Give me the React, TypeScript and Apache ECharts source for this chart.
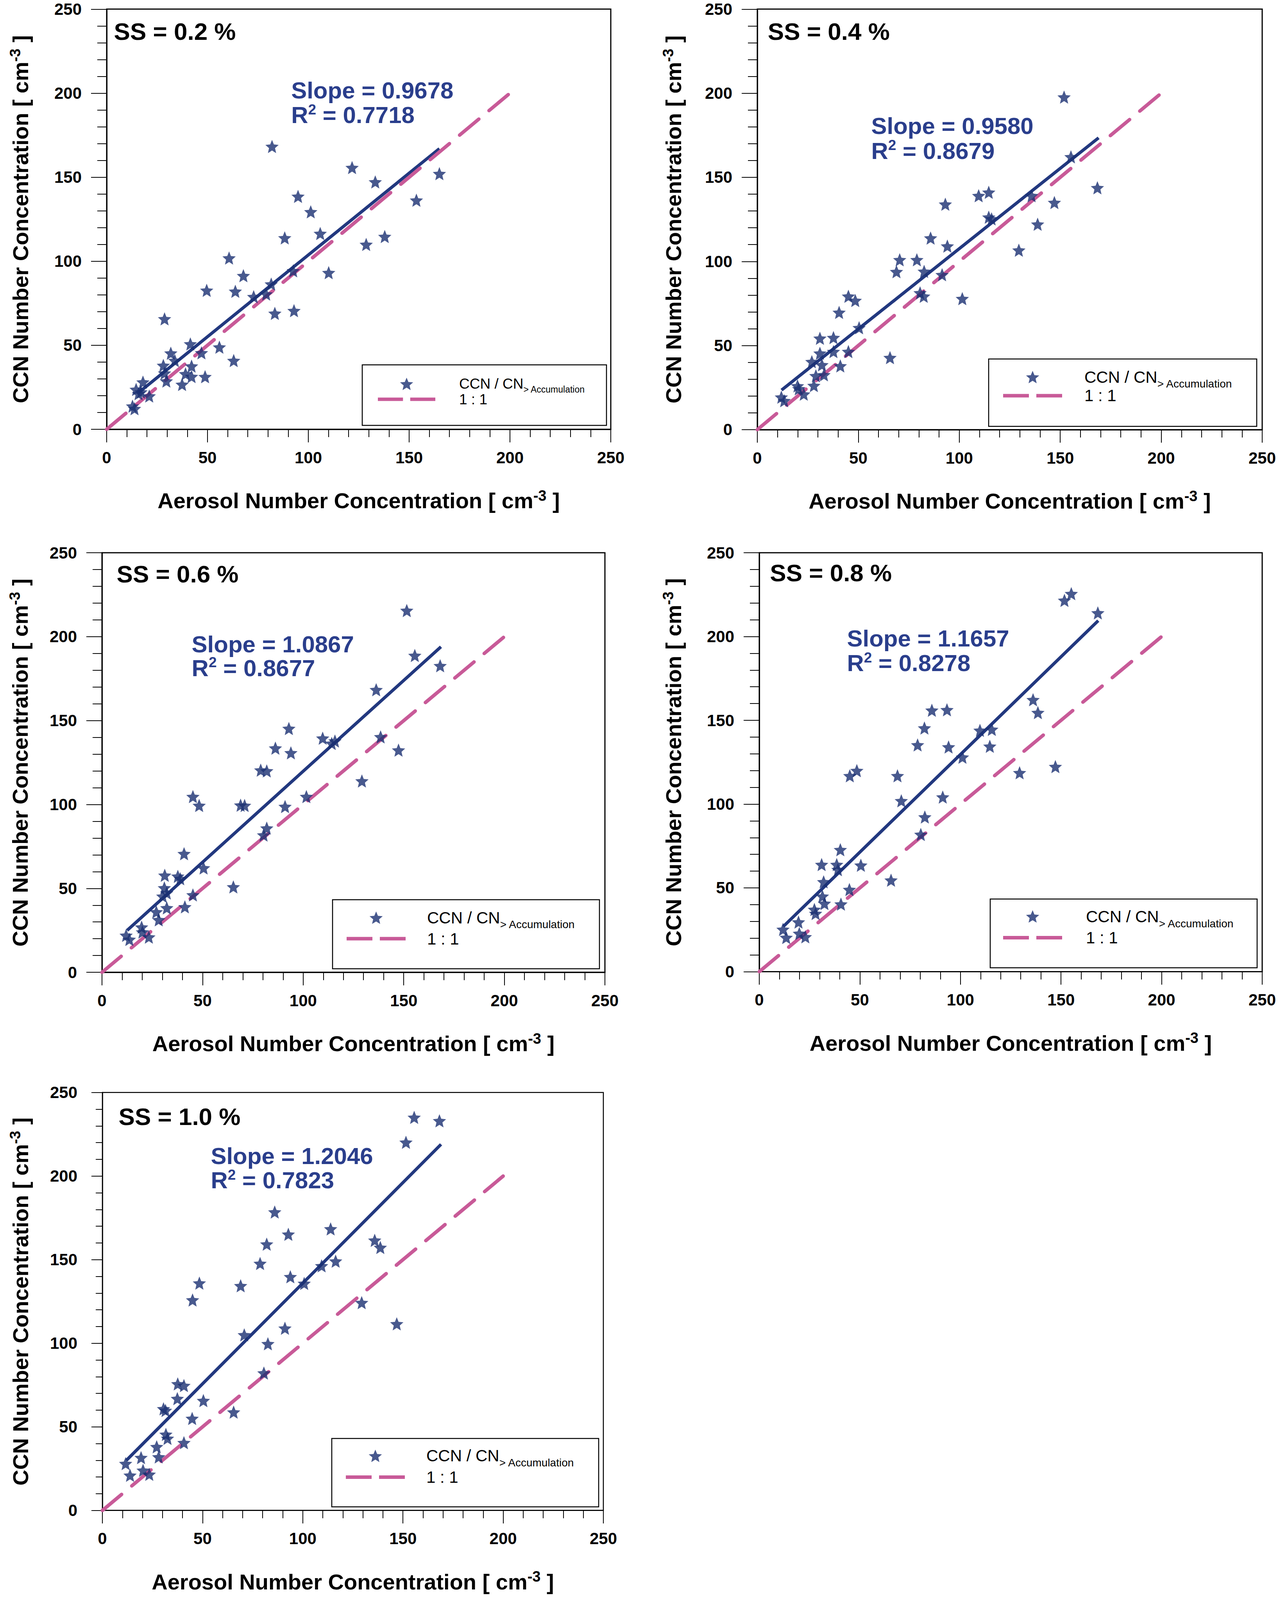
import React, { useEffect, useRef } from 'react';
import * as echarts from 'echarts';

// ---- data (x: aerosol number conc., y: CCN number conc.) ----
const ssLabels = ['SS = 0.2 %', 'SS = 0.4 %', 'SS = 0.6 %', 'SS = 0.8 %', 'SS = 1.0 %'];
const slopes = ['0.9678', '0.9580', '1.0867', '1.1657', '1.2046'];
const rSquared = ['0.7718', '0.8679', '0.8677', '0.8278', '0.7823'];

const ss02 = [
  [82.0, 168.3], [121.7, 155.7], [165.0, 152.1], [133.2, 147.2], [94.9, 138.6], [153.6, 136.3],
  [101.2, 129.4], [105.9, 116.5], [137.9, 114.7], [88.3, 113.9], [128.7, 110.0], [60.7, 101.9],
  [67.8, 91.4], [110.1, 93.2], [92.5, 94.3], [49.6, 82.7], [63.8, 82.1], [72.9, 78.9],
  [79.1, 80.5], [81.6, 86.4], [83.4, 69.0], [92.9, 70.6], [28.7, 65.7], [41.5, 50.8],
  [55.9, 48.9], [47.0, 45.5], [31.8, 45.3], [63.0, 40.9], [33.8, 40.9], [28.1, 38.0],
  [42.1, 37.6], [39.1, 33.0], [42.1, 31.4], [48.8, 31.3], [28.7, 33.4], [29.6, 28.7],
  [37.4, 26.7], [18.0, 28.1], [14.6, 23.7], [17.0, 22.2], [21.1, 19.8], [12.8, 13.8],
  [13.8, 12.3], [15.8, 21.2],
];
const ss04 = [
  [151.9, 197.7], [155.3, 162.2], [168.4, 143.8], [114.6, 141.1], [109.6, 139.1], [135.8, 139.1],
  [93.1, 134.0], [147.1, 135.0], [114.6, 126.3], [116.0, 125.3], [138.8, 122.1], [85.8, 113.9],
  [94.1, 109.1], [129.5, 106.7], [70.5, 101.0], [79.0, 101.0], [68.9, 93.9], [82.6, 94.1],
  [91.5, 92.1], [80.6, 81.3], [82.4, 79.3], [101.5, 77.9], [45.1, 79.3], [48.5, 76.8],
  [40.5, 69.7], [50.4, 60.6], [31.0, 54.3], [37.7, 54.7], [65.7, 42.8], [45.1, 46.4],
  [37.7, 46.4], [31.0, 45.4], [32.0, 38.5], [41.1, 37.9], [27.0, 40.4], [29.0, 32.0],
  [33.0, 32.6], [28.0, 26.2], [19.9, 26.0], [20.5, 24.3], [23.0, 21.1], [11.9, 19.3],
  [13.3, 17.2],
];
const ss06 = [
  [151.5, 215.6], [155.5, 188.8], [168.1, 182.7], [136.3, 168.4], [92.9, 145.3], [109.7, 139.5],
  [115.8, 137.8], [114.2, 136.4], [138.5, 140.3], [86.2, 133.6], [93.9, 130.8], [147.4, 132.4],
  [78.9, 120.5], [81.9, 120.0], [129.2, 114.0], [45.2, 104.7], [48.3, 99.4], [68.9, 99.6],
  [70.9, 99.4], [91.0, 98.8], [101.6, 104.7], [81.9, 85.9], [80.3, 81.8], [40.8, 70.7],
  [50.5, 62.2], [65.3, 50.9], [31.2, 57.8], [37.7, 57.2], [38.9, 55.8], [31.0, 50.3],
  [32.2, 47.3], [45.2, 46.1], [30.2, 45.3], [32.2, 38.4], [41.2, 39.0], [27.0, 36.0],
  [28.2, 31.3], [19.7, 26.9], [20.1, 24.0], [23.3, 21.0], [12.0, 22.0], [13.6, 19.6],
];
const ss08 = [
  [155.1, 225.6], [151.7, 221.6], [168.3, 214.1], [136.1, 162.3], [138.5, 154.6], [85.8, 156.0],
  [93.3, 156.3], [82.1, 145.4], [109.7, 144.0], [115.6, 144.6], [114.6, 134.5], [78.7, 135.3],
  [94.1, 134.1], [101.0, 128.0], [147.2, 122.4], [129.4, 118.7], [45.0, 116.9], [48.5, 120.0],
  [68.7, 116.9], [70.6, 102.0], [91.2, 104.2], [82.3, 92.3], [80.3, 81.9], [40.3, 72.8],
  [31.0, 63.9], [38.5, 63.9], [39.1, 60.9], [50.5, 63.5], [65.5, 54.6], [32.0, 53.6],
  [44.8, 49.0], [31.4, 45.0], [32.4, 40.7], [40.6, 40.3], [27.4, 37.1], [28.0, 34.7],
  [19.5, 29.6], [11.8, 25.2], [19.9, 22.8], [13.4, 20.4], [22.9, 20.8],
];
const ss10 = [
  [155.6, 235.1], [168.2, 233.1], [151.5, 220.2], [86.0, 178.5], [113.9, 168.4], [92.8, 165.2],
  [82.0, 159.3], [135.9, 161.6], [138.7, 157.3], [78.7, 147.7], [109.4, 146.3], [116.4, 149.1],
  [93.8, 139.8], [100.7, 135.8], [48.4, 136.0], [69.0, 134.4], [45.0, 125.9], [129.4, 124.3],
  [146.9, 111.6], [91.1, 109.0], [70.8, 105.0], [82.6, 99.7], [80.6, 82.2], [37.6, 75.7],
  [40.7, 74.7], [37.4, 66.9], [50.4, 65.7], [65.5, 58.8], [30.5, 60.8], [31.5, 59.8],
  [44.8, 55.0], [31.7, 45.5], [32.5, 43.1], [40.7, 40.5], [27.1, 38.1], [28.1, 32.0],
  [19.3, 31.6], [11.6, 28.0], [20.3, 24.0], [13.8, 21.0], [23.4, 21.6],
];

// regression line end points
const fit02 = [[16, 22], [165, 167]];
const fit04 = [[12, 23.5], [169, 173.5]];
const fit06 = [[12.5, 25], [168.5, 194]];
const fit08 = [[12, 27], [168.5, 209.5]];
const fit10 = [[12, 30], [169, 219]];
const oneToOne = [[0, 0], [200, 200]];

const AXIS_MIN = 0;
const AXIS_MAX = 250;
const AXIS_STEP = 50;

const panelData = [ss02, ss04, ss06, ss08, ss10];
const fits = [fit02, fit04, fit06, fit08, fit10];

// ---- layout (pixels of the 3273 x 4900 figure) ----
const FIG_W = 3273;
const FIG_H = 4900;
const layouts = [
  { left: 273, top: 28, width: 1290, height: 1290, frame: 3, yTick: [40, 24], yNameGap: 186,
    ss: [3.6, 236.7], note: [91.5, 201.7, 186.9], box: [654, 12, 625, 186],
    lg: { iconDx: 40, iconW: 147, row1: 67, step: 56, font: 37, sub: 23, drop: 17, textDx: 248 } },
  { left: 1938, top: 28, width: 1292, height: 1291, frame: 3, yTick: [40, 24], yNameGap: 180,
    ss: [5.2, 236.8], note: [56.4, 180.5, 165.7], box: [592, 10, 686, 207],
    lg: { iconDx: 37, iconW: 151, row1: 68, step: 70, font: 42, sub: 28, drop: 21, textDx: 245 } },
  { left: 261, top: 1697, width: 1287, height: 1288, frame: 3, yTick: [40, 24], yNameGap: 175,
    ss: [7.3, 237.3], note: [44.6, 195.4, 181.3], box: [590, 11, 683, 212],
    lg: { iconDx: 36, iconW: 151, row1: 68, step: 77, font: 42, sub: 28, drop: 21, textDx: 242 } },
  { left: 1943, top: 1697, width: 1287, height: 1286, frame: 3, yTick: [40, 24], yNameGap: 185,
    ss: [5.3, 238.1], note: [43.6, 198.8, 184.1], box: [591, 12, 683, 211],
    lg: { iconDx: 33, iconW: 151, row1: 67, step: 79, font: 42, sub: 28, drop: 22, textDx: 245 } },
  { left: 262, top: 3354, width: 1282, height: 1283, frame: 2.5, yTick: [28, 17], yNameGap: 175,
    ss: [8.1, 235.7], note: [54.1, 211.9, 197.4], box: [587, 11, 683, 210],
    lg: { iconDx: 36, iconW: 151, row1: 66, step: 78, font: 42, sub: 28, drop: 21, textDx: 242 } },
];

const FONT = '"Liberation Sans", Arial, Helvetica, sans-serif';
const NAVY = '#1A2F72';
const FIT_BLUE = '#22387F';
const TEXT_BLUE = '#2A3E8C';
const PINK = '#C85A98';
const STAR = 'path://M50,0 L63.2,31.8 L97.55,34.55 L71.4,56.9 L79.39,90.45 L50,72.5 L20.61,90.45 L28.6,56.9 L2.45,34.55 L36.8,31.8 Z';
const DASH = 'path://M0,0H66V9H0Z M85,0H151V9H85Z';

const App: React.FC = () => {
  const chartRef = useRef<HTMLDivElement>(null);

  useEffect(() => {
    if (!chartRef.current) return;
    document.body.style.margin = '0';
    document.body.style.overflow = 'hidden';
    document.documentElement.style.overflow = 'hidden';

    // the photographed area is shorter than the figure; fit it vertically
    const H = Math.min(4086, window.innerHeight || 4086);
    const sy = H / FIG_H;
    chartRef.current.style.height = H + 'px';

    const chart = echarts.init(chartRef.current, undefined, { renderer: 'svg' });

    const nameRich = {
      m: { fontSize: 56, fontWeight: 'bold', fontFamily: FONT, color: '#000', lineHeight: 64 },
      s: { fontSize: 38, fontWeight: 'bold', fontFamily: FONT, color: '#000', lineHeight: 40, verticalAlign: 'top' },
    };

    const grid: any[] = [];
    const xAxis: any[] = [];
    const yAxis: any[] = [];
    const series: any[] = [];
    const legend: any[] = [];
    const graphic: any[] = [];

    layouts.forEach((L, i) => {
      const top = L.top * sy;
      const height = L.height * sy;
      const px = (x: number) => L.left + ((x - AXIS_MIN) / (AXIS_MAX - AXIS_MIN)) * L.width;
      const py = (y: number) => top + height - ((y - AXIS_MIN) / (AXIS_MAX - AXIS_MIN)) * height;

      grid.push({
        left: L.left, top, width: L.width, height,
        show: true, borderColor: '#000', borderWidth: L.frame, backgroundColor: 'transparent',
      });

      const common = {
        type: 'value', min: AXIS_MIN, max: AXIS_MAX, interval: AXIS_STEP, gridIndex: i,
        splitLine: { show: false },
        axisLine: { show: true, onZero: false, lineStyle: { color: '#000', width: L.frame } },
        nameLocation: 'middle',
        nameTextStyle: { rich: nameRich },
      };
      xAxis.push({
        ...common,
        name: '{m|Aerosol Number Concentration [ cm}{s|-3}{m| ]}',
        nameGap: 219 * sy - 32,
        axisTick: { show: true, length: 40 * sy, lineStyle: { color: '#000', width: 2 } },
        minorTick: { show: true, splitNumber: 5, length: 24 * sy, lineStyle: { color: '#000', width: 2 } },
        axisLabel: { fontSize: 42, fontWeight: 'bold', fontFamily: FONT, color: '#000', margin: 89 * sy - 23 },
      });
      yAxis.push({
        ...common,
        name: '{m|CCN Number Concentration [ cm}{s|-3}{m| ]}',
        nameGap: L.yNameGap + 3,
        axisTick: { show: true, length: L.yTick[0], lineStyle: { color: '#000', width: 2 } },
        minorTick: { show: true, splitNumber: 5, length: L.yTick[1], lineStyle: { color: '#000', width: 2 } },
        axisLabel: { fontSize: 42, fontWeight: 'bold', fontFamily: FONT, color: '#000', margin: 64 },
      });

      series.push({
        type: 'line', xAxisIndex: i, yAxisIndex: i, data: fits[i], symbol: 'none', silent: true,
        lineStyle: { color: FIT_BLUE, width: 8 }, z: 2,
      });
      series.push({
        name: '1 : 1', type: 'line', xAxisIndex: i, yAxisIndex: i, data: oneToOne, symbol: 'none', silent: true,
        lineStyle: { color: PINK, width: 9, type: [64, 34], cap: 'round' }, itemStyle: { color: PINK }, z: 3,
      });
      series.push({
        name: 'CCN / CN', type: 'scatter', xAxisIndex: i, yAxisIndex: i, data: panelData[i],
        symbol: STAR, symbolSize: 34, itemStyle: { color: NAVY }, z: 4,
      });

      // legend box + legend
      const [bdx, bdb, bw, bh] = L.box;
      const boxLeft = L.left + bdx;
      const boxTop = top + height - (bdb + bh) * sy;
      graphic.push({
        type: 'rect', z: 1,
        shape: { x: boxLeft, y: boxTop, width: bw, height: bh * sy },
        style: { fill: '#fff', stroke: '#000', lineWidth: 2.5 },
      });
      const g = L.lg;
      const lh = 2 * (g.drop * sy + g.sub / 2);
      legend.push({
        orient: 'vertical', left: boxLeft + g.iconDx, top: boxTop + g.row1 * sy - lh / 2,
        padding: 0, itemWidth: g.iconW, itemHeight: 32, itemGap: g.step * sy - lh,
        selectedMode: false, z: 10,
        itemStyle: { borderWidth: 0 },
        data: [{ name: 'CCN / CN', icon: STAR }, { name: '1 : 1', icon: DASH }],
        formatter: (name: string) => (name === 'CCN / CN' ? '{m|CCN / CN}{s|> Accumulation}' : '{m|1 : 1}'),
        textStyle: {
          padding: [0, 0, 0, g.textDx - g.iconDx - g.iconW - 5],
          rich: {
            m: { fontSize: g.font, fontFamily: FONT, color: '#000', lineHeight: lh },
            s: { fontSize: g.sub, fontFamily: FONT, color: '#000', lineHeight: g.sub, verticalAlign: 'bottom' },
          },
        },
      });

      // panel title and fit annotation
      graphic.push({
        type: 'text', z: 10, x: px(L.ss[0]), y: py(L.ss[1]),
        style: { text: ssLabels[i], fontSize: 62, fontWeight: 'bold', fontFamily: FONT, fill: '#000', verticalAlign: 'middle' },
      });
      graphic.push({
        type: 'text', z: 10, x: px(L.note[0]), y: py(L.note[1]),
        style: { text: 'Slope = ' + slopes[i], fontSize: 60, fontWeight: 'bold', fontFamily: FONT, fill: TEXT_BLUE, verticalAlign: 'middle' },
      });
      graphic.push({
        type: 'text', z: 10, x: px(L.note[0]), y: py(L.note[2]),
        style: {
          text: '{m|R}{s|2}{m| = ' + rSquared[i] + '}',
          verticalAlign: 'middle',
          rich: {
            m: { fontSize: 60, fontWeight: 'bold', fontFamily: FONT, fill: TEXT_BLUE, lineHeight: 66 },
            s: { fontSize: 37, fontWeight: 'bold', fontFamily: FONT, fill: TEXT_BLUE, lineHeight: 38, verticalAlign: 'top' },
          },
        },
      });
    });

    chart.setOption({
      animation: false,
      backgroundColor: '#fff',
      textStyle: { fontFamily: FONT },
      grid, xAxis, yAxis, series, legend, graphic,
    });

    return () => {
      chart.dispose();
    };
  }, []);

  return <div ref={chartRef} style={{ width: FIG_W + 'px', height: FIG_H + 'px' }}></div>;
};

export default App;
